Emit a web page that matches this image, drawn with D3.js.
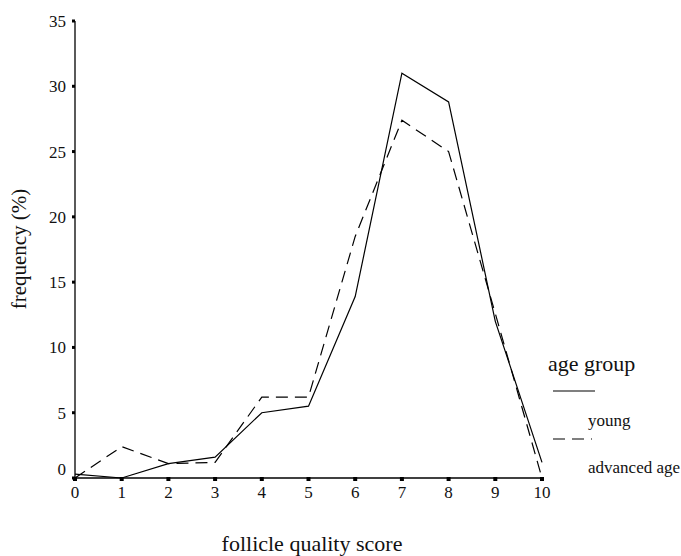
<!DOCTYPE html>
<html>
<head>
<meta charset="utf-8">
<script src="https://cdn.jsdelivr.net/npm/d3@7"></script>
<style>
  body { margin: 0; background: #fff; }
  svg text { font-family: "Liberation Serif", "DejaVu Serif", serif; fill: #111; }
</style>
</head>
<body>
<div id="chart"></div>
<script>
'use strict';

// data
const scores = [0, 1, 2, 3, 4, 5, 6, 7, 8, 9, 10];
const young = [0.3, 0, 1.1, 1.6, 5.0, 5.5, 13.9, 31.0, 28.8, 12.0, 1.2];
const advanced = [0, 2.4, 1.1, 1.2, 6.2, 6.2, 18.5, 27.4, 25.0, 12.6, 0];
const yTicks = [0, 5, 10, 15, 20, 25, 30, 35];
const legendLabels = ['young', 'advanced age'];

const W = 681, H = 556;

const svg = d3.select('#chart').append('svg')
    .attr('width', W)
    .attr('height', H);

// scales
const x = d3.scaleLinear().domain([0, 10]).range([75, 542]);
const y = d3.scaleLinear().domain([0, 35]).range([478, 21]);

// y axis line
svg.append('line')
    .attr('x1', x(0)).attr('x2', x(0))
    .attr('y1', y(35)).attr('y2', y(0))
    .attr('stroke', '#000').attr('stroke-width', 1.3);

// x axis line
svg.append('line')
    .attr('x1', x(0)).attr('x2', x(10))
    .attr('y1', y(0)).attr('y2', y(0))
    .attr('stroke', '#000').attr('stroke-width', 1.3);

// y ticks (small square marks left of the axis)
svg.selectAll('.ytick')
    .data(yTicks)
    .enter()
    .append('rect')
    .attr('class', 'ytick')
    .attr('x', x(0) - 3)
    .attr('y', d => y(d) - 1.5)
    .attr('width', 3)
    .attr('height', 3)
    .attr('fill', '#000');

svg.selectAll('.ylab')
    .data(yTicks)
    .enter()
    .append('text')
    .attr('class', 'ylab')
    .attr('x', x(0) - 9)
    .attr('y', d => d === 0 ? y(d) - 3 : y(d) + 6)
    .attr('text-anchor', 'end')
    .attr('font-size', 17)
    .text(d => d);

// x ticks
svg.selectAll('.xtick')
    .data(scores)
    .enter()
    .append('rect')
    .attr('class', 'xtick')
    .attr('x', d => x(d) - 2)
    .attr('y', y(0) - 1)
    .attr('width', 4)
    .attr('height', 4)
    .attr('fill', '#000');

svg.selectAll('.xlab')
    .data(scores)
    .enter()
    .append('text')
    .attr('class', 'xlab')
    .attr('x', d => x(d))
    .attr('y', y(0) + 20)
    .attr('text-anchor', 'middle')
    .attr('font-size', 17)
    .text(d => d);

// lines
const line = d3.line()
    .x((d, i) => x(scores[i]))
    .y(d => y(d));

svg.append('path')
    .datum(young)
    .attr('d', line)
    .attr('fill', 'none')
    .attr('stroke', '#000')
    .attr('stroke-width', 1.2);

svg.append('path')
    .datum(advanced)
    .attr('d', line)
    .attr('fill', 'none')
    .attr('stroke', '#000')
    .attr('stroke-width', 1.2)
    .attr('stroke-dasharray', '12,7');

// axis titles
svg.append('text')
    .attr('transform', 'translate(26,249) rotate(-90)')
    .attr('text-anchor', 'middle')
    .attr('font-size', 21)
    .text('frequency (%)');

svg.append('text')
    .attr('x', 312)
    .attr('y', 551)
    .attr('text-anchor', 'middle')
    .attr('font-size', 22)
    .text('follicle quality score');

// legend
const lg = svg.append('g');
lg.append('text')
    .attr('x', 548)
    .attr('y', 371)
    .attr('font-size', 22)
    .text('age group');

lg.selectAll('.lgline')
    .data(legendLabels)
    .enter()
    .append('line')
    .attr('class', 'lgline')
    .attr('x1', 553)
    .attr('x2', (d, i) => i === 0 ? 595 : 592)
    .attr('y1', (d, i) => 391 + i * 48)
    .attr('y2', (d, i) => 391 + i * 48)
    .attr('stroke', '#000')
    .attr('stroke-width', 1.2)
    .attr('stroke-dasharray', (d, i) => i === 0 ? null : '12,7');

lg.selectAll('.lgtext')
    .data(legendLabels)
    .enter()
    .append('text')
    .attr('class', 'lgtext')
    .attr('x', 588)
    .attr('y', (d, i) => 426 + i * 47)
    .attr('font-size', 17)
    .text(d => d);
</script>
</body>
</html>
